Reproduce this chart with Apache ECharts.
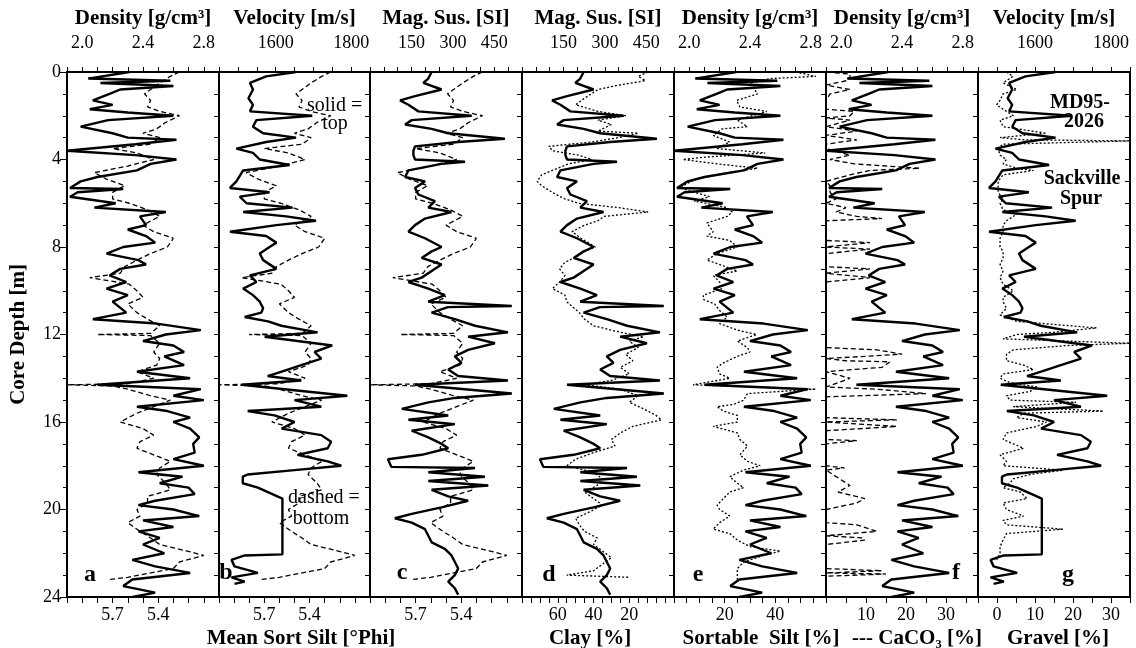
<!DOCTYPE html>
<html>
<head>
<meta charset="utf-8" />
<script src="https://cdn.jsdelivr.net/npm/echarts@6/dist/echarts.min.js"></script>
<style>
  html, body { margin: 0; padding: 0; background: #fff; }
  #main { width: 1136px; height: 648px; }
</style>
</head>
<body>
<div id="main"></div>
<script type="text/javascript">
// core depth [m] / value pairs
var densityDepth = [0,0.3,0.4,0.5,0.64,0.8,1.0,1.3,1.5,1.7,1.85,2.0,2.2,2.5,2.8,3.0,3.1,3.3,3.6,3.8,4.0,4.2,4.5,4.8,5.0,5.3,5.35,5.5,5.7,6.0,6.2,6.4,6.6,7.0,7.2,7.5,7.8,8.0,8.3,8.6,8.8,9.0,9.3,9.6,9.9,10.2,10.5,11.0,11.3,11.5,11.8,12.0,12.3,12.5,12.8,13.0,13.4,13.7,14.0,14.3,14.5,14.8,15.0,15.3,15.5,15.8,16.0,16.3,16.7,17.0,17.4,17.7,18.0,18.3,18.5,18.8,19.0,19.3,19.6,19.8,20.0,20.3,20.5,20.8,21.0,21.3,21.6,22.0,22.3,22.6,22.9,23.2,23.5,23.8,24.0];
var densityValue = [2.31,2.04,2.58,2.12,2.6,2.25,2.18,2.07,2.2,2.05,2.3,2.6,2.17,1.99,2.2,2.3,2.62,2.35,1.9,2.35,2.62,2.45,2.36,2.1,1.99,1.92,2.27,1.97,1.92,2.22,2.08,2.55,2.38,2.42,2.3,2.42,2.48,2.27,2.16,2.37,2.42,2.25,2.18,2.29,2.16,2.3,2.2,2.29,2.07,2.49,2.78,2.55,2.4,2.6,2.67,2.54,2.67,2.36,2.71,2.1,2.78,2.6,2.8,2.36,2.56,2.71,2.6,2.71,2.77,2.73,2.74,2.6,2.8,2.37,2.66,2.51,2.7,2.74,2.48,2.37,2.6,2.77,2.4,2.6,2.37,2.51,2.4,2.54,2.33,2.48,2.71,2.33,2.27,2.48,2.33];

var sortSiltDepth = [0,0.2,0.5,0.8,1.0,1.3,1.6,1.8,2.0,2.3,2.6,2.8,3.0,3.3,3.5,3.7,4.0,4.3,4.6,4.9,5.2,5.5,5.8,6.0,6.3,6.6,7.0,7.3,7.6,8.0,8.3,8.6,8.9,9.2,9.4,9.7,10.0,10.3,10.6,11.0,11.3,11.6,11.95,12.0,12.05,12.4,12.8,13.1,13.4,13.7,14.0,14.25,14.3,14.35,14.5,14.8,15.0,15.3,15.6,16.0,16.3,16.6,16.9,17.2,17.5,17.8,18.1,18.4,18.8,19.1,19.4,19.7,20.0,20.3,20.6,21.0,21.3,21.6,21.9,22.1,22.4,22.7,22.9,23.1,23.2];
var sortSiltValue = [5.26,5.32,5.39,5.45,5.49,5.45,5.47,5.39,5.26,5.35,5.41,5.5,5.39,5.45,5.7,5.54,5.43,5.6,5.82,5.74,5.62,5.7,5.7,5.59,5.47,5.39,5.5,5.43,5.3,5.34,5.45,5.54,5.62,5.65,5.85,5.59,5.54,5.5,5.6,5.54,5.47,5.39,5.45,5.8,5.45,5.39,5.43,5.39,5.41,5.54,5.43,5.6,6.0,5.7,5.6,5.45,5.32,5.43,5.54,5.65,5.5,5.43,5.52,5.54,5.43,5.32,5.39,5.41,5.35,5.32,5.47,5.47,5.54,5.52,5.6,5.52,5.45,5.39,5.21,5.1,5.26,5.3,5.45,5.6,5.72];

var velocityDepth = [0,0.2,0.5,0.8,1.2,1.5,1.8,2.0,2.2,2.5,2.8,3.0,3.2,3.5,3.7,4.0,4.25,4.5,5.0,5.3,5.5,5.7,6.0,6.2,6.4,6.6,6.8,7.0,7.3,7.5,7.8,8.0,8.3,8.6,9.0,9.3,9.6,9.9,10.2,10.5,10.8,11.0,11.2,11.4,11.6,11.9,12.1,12.3,12.5,12.8,13.1,13.4,13.7,13.9,14.1,14.3,14.5,14.8,15.0,15.3,15.5,15.7,16.0,16.3,16.6,16.9,17.2,17.5,17.8,18.0,18.2,18.4,18.5,18.8,19.0,19.5,22.05,22.1,22.3,22.6,22.9,23.1,23.3,23.4];
var velocityValue = [1654,1575,1532,1540,1528,1540,1532,1697,1549,1540,1567,1654,1575,1496,1540,1558,1637,1514,1496,1479,1584,1505,1523,1645,1514,1628,1707,1602,1479,1575,1602,1584,1558,1567,1602,1532,1549,1514,1540,1558,1567,1562,1518,1580,1615,1711,1571,1658,1750,1703,1721,1668,1616,1579,1668,1510,1624,1790,1650,1721,1526,1597,1650,1616,1721,1747,1738,1658,1738,1774,1650,1526,1513,1513,1553,1618,1618,1518,1483,1491,1553,1483,1518,1491];

var magSusDepth = [0,0.3,0.5,0.8,1.1,1.3,1.5,1.8,2.0,2.2,2.4,2.6,2.8,3.05,3.2,3.4,3.6,3.8,4.0,4.1,4.2,4.5,4.8,5.0,5.3,5.6,5.9,6.2,6.4,6.7,7.0,7.3,7.6,8.0,8.2,8.5,8.8,9.1,9.4,9.6,9.9,10.2,10.5,10.7,10.75,11.0,11.3,11.6,11.9,12.1,12.4,12.7,13.0,13.3,13.6,13.9,14.1,14.3,14.5,14.7,14.9,15.1,15.4,15.7,15.9,16.1,16.4,16.7,17.0,17.2,17.5,17.7,18.05,18.1,18.3,18.5,18.7,18.9,19.1,19.4,19.6,19.9,20.2,20.4,20.6,20.9,21.2,21.5,21.8,22.1,22.4,22.7,23.0,23.3,23.6,23.9];
var magSusValue = [223,211,193,259,163,109,139,175,368,151,127,223,283,488,319,163,157,157,163,344,259,139,127,199,163,175,235,211,295,199,163,139,199,259,223,187,259,223,187,139,211,271,211,513,282,223,307,380,499,355,452,355,307,331,283,319,499,163,343,513,307,211,115,283,139,307,151,211,259,283,187,65,77,380,211,416,211,428,223,283,355,259,151,90,151,199,211,223,271,295,307,319,307,283,307,319];

var clayDepth = [0,0.2,0.4,0.6,0.8,1.2,1.5,1.8,2.0,2.2,2.4,2.7,2.8,3.0,3.2,3.4,3.6,3.8,4.0,4.2,4.5,4.7,5.0,5.2,5.4,5.6,5.8,6.0,6.2,6.4,6.6,6.8,7.0,7.3,7.6,8.0,8.2,8.4,8.7,9.0,9.3,9.6,9.9,10.2,10.5,11.0,11.3,11.6,11.9,12.1,12.3,12.6,12.9,13.2,13.5,13.8,14.1,14.3,14.5,14.8,15.1,15.4,15.7,15.9,16.2,16.5,16.8,17.1,17.4,17.7,18.0,18.3,18.6,18.9,19.2,19.5,19.8,20.1,20.4,20.7,21.0,21.3,21.6,21.9,22.2,22.5,22.8,23.0,23.1];
var clayValue = [9.5,15,11,26,37.5,45,50,37.5,22,37.5,30,37.5,15,26,41,65,63,48.5,41,54,63,69,71.5,69,65,61,56,48.5,26,9.5,34,37.5,45,52,47,39,45,48.5,56,59,56,59,63,56,55,48,45,40,25,12,20,15,22,18,25,20,30,45,25,15,20,12,5,2,18,25,30,28,40,50,55,40,35,38,45,40,35,42,50,48,45,38,40,35,30,35,40,55,20];

var sortableDepth = [0,0.2,0.3,0.5,1.0,1.3,1.6,1.8,2.2,2.5,2.6,2.9,3.2,3.5,3.7,3.9,4.0,4.2,4.4,4.6,4.9,5.1,5.3,5.5,5.7,5.9,6.2,6.4,6.6,6.9,7.3,7.5,7.7,8.0,8.3,8.6,8.8,9.1,9.3,9.6,9.9,10.2,10.4,10.6,10.9,11.2,11.5,11.8,12.0,12.3,12.6,12.8,13.0,13.3,13.5,13.8,14.0,14.3,14.5,14.7,15.0,15.2,15.3,15.5,15.7,16.0,16.2,16.5,16.8,17.1,17.3,17.5,17.8,18.0,18.2,18.5,18.8,19.0,19.2,19.5,19.8,20.0,20.3,20.6,20.9,21.1,21.4,21.7,21.9,22.1,22.4,22.7,23.0,23.2];
var sortableValue = [48,56,38,30,33,24.7,26,36.6,25,29,19,15.5,22,17,36,11.6,3.5,17,33,21,9,5,2.4,8,14,8,21,23,21,13,15.5,13,22,25,17,13,18,25,15.5,18,19,11.6,11.6,16,18,21,18,25,32.6,25,29,30,25,19.5,17,18,22,7.5,56,29,27.5,23.5,17,19.5,25,25,15.5,25,26,29,27.5,26,29,34,27.5,22,25,27.5,22,19.5,17,18,22,18,15.5,22,25,30,42,35.3,27.5,25,25,25];

var caco3Depth = [0,0.1,0.3,0.4,0.6,0.8,1.0,1.3,1.7,1.8,2.0,2.1,2.2,2.5,2.7,2.9,3.1,3.3,3.5,3.8,4.0,4.2,4.4,4.5,4.7,5.0,5.2,5.5,5.8,6.0,6.2,6.4,6.6,6.7,6.8,7.7,7.8,8.0,8.1,8.3,8.9,9.0,9.2,9.4,9.6,12.6,12.7,12.9,13.1,13.2,13.25,13.5,13.7,14.0,14.1,14.4,14.5,14.7,14.85,15.8,15.9,16.0,16.2,16.4,16.8,16.85,17.0,18.0,18.1,18.2,18.9,19.2,19.5,19.7,20.0,20.6,20.7,21.0,21.2,21.3,21.4,21.6,22.7,22.8,22.9,22.95,23.05];
var caco3Value = [0.2,6,6,5,0,6,1,0,0,7,6,0,6,0,7.7,0,7.7,0,0,6,1,7,23.5,11,6,0,1,1,2.5,0,5,2.5,7.7,14,0,0,11,0,11,0,0,11,0,11,0,0,12.7,19,0,5,16,14,0,6,4.6,0,12.7,25,0,0,17.7,0,17.7,0,0,7.7,0,0,4.6,0,6,3,9.7,7.7,0,0,7.7,12.7,0,9,9.7,0,0,14,0,15,0];

var gravelDepth = [0,0.2,0.5,0.8,1.0,1.3,1.5,1.7,2.0,2.2,2.5,2.8,3.0,3.1,3.15,3.3,3.5,3.8,4.0,4.2,4.4,4.5,4.7,5.0,5.5,5.8,6.0,6.3,6.5,6.8,7.0,7.3,7.6,8.0,8.2,8.5,8.8,9.1,9.4,9.7,10.0,10.3,10.5,10.8,11.1,11.4,11.7,11.9,12.0,12.2,12.4,12.5,12.7,12.9,13.2,13.4,13.6,13.8,14.0,14.2,14.4,14.6,14.8,15.0,15.1,15.3,15.5,15.6,15.8,16.0,16.2,16.5,16.8,17.0,17.2,17.5,17.8,18.0,18.2,18.4,18.6,18.8,19.0,19.2,19.5,19.7,20.0,20.3,20.5,20.7,20.9,21.1,21.4,21.7,22.0,22.3];
var gravelValue = [2.5,4.2,1.6,5.2,1.6,0.8,-0.1,1.6,4.3,0.8,1.6,13,0.8,7,35,1.6,0.3,0.8,2.5,1.6,5.2,9.6,1.6,0.3,0.3,1.6,0.8,1.6,5.2,2.5,1.6,1.6,0.8,0.8,1.6,1.6,0.8,1.6,0.8,1.6,4.3,1.6,1.6,2.5,0.8,5.2,26.2,14.7,5.2,1.6,35,19,4.3,2.5,2.5,7,9.6,1.6,0.8,3.4,10.5,8.7,2.5,3.4,20.8,4.3,28,7,5.2,13,10.5,2.5,1.6,4.3,7,0.8,2.5,1.6,17.4,8.7,4.3,3.4,1.6,6.1,7.9,1.6,2.5,7,1.6,2.5,17.4,2.5,1.6,0.8,0.8,-0.1];

// tick labels
var depthTicks = ['0', '4', '8', '12', '16', '20', '24'];
var densityTicks = ['2.0', '2.4', '2.8'];
var velocityTicks = ['1600', '1800'];
var magSusTicks = ['150', '300', '450'];
var sortSiltTicks = ['5.7', '5.4'];
var clayTicks = ['60', '40', '20'];
var sortableTicks = ['20', '40'];
var caco3Ticks = ['10', '20', '30'];
var gravelTicks = ['0', '10', '20', '30'];

var FONT = '"Liberation Serif", "Times New Roman", serif';

function pairs(depth, val) {
    return depth.map(function (d, i) { return [val[i], d]; });
}

var scales = {
    density:  { min: 1.9, max: 2.9, interval: 0.1, ticks: densityTicks, name: 'Density [g/cm³]', data: pairs(densityDepth, densityValue) },
    velocity: { min: 1450, max: 1850, interval: 50, ticks: velocityTicks, name: 'Velocity [m/s]', data: pairs(velocityDepth, velocityValue) },
    magsus:   { min: 0, max: 550, interval: 50, ticks: magSusTicks, name: 'Mag. Sus. [SI]', data: pairs(magSusDepth, magSusValue) },
    sortSilt: { min: 5.0, max: 6.0, interval: 0.1, ticks: sortSiltTicks, inverse: true, data: pairs(sortSiltDepth, sortSiltValue) },
    clay:     { min: -5, max: 80, interval: 5, ticks: clayTicks, inverse: true, data: pairs(clayDepth, clayValue) },
    sortable: { min: 0, max: 60, interval: 5, ticks: sortableTicks, data: pairs(sortableDepth, sortableValue) },
    caco3:    { min: 0, max: 38, interval: 5, ticks: caco3Ticks, data: pairs(caco3Depth, caco3Value) },
    gravel:   { min: -5, max: 35, interval: 5, ticks: gravelTicks, data: pairs(gravelDepth, gravelValue) }
};

var panels = [
    { left: 67,  width: 152, top: 'density',  bottom: 'sortSilt', dash: [5, 3] },
    { left: 219, width: 151, top: 'velocity', bottom: 'sortSilt', dash: [5, 3] },
    { left: 370, width: 152, top: 'magsus',   bottom: 'sortSilt', dash: [5, 3] },
    { left: 522, width: 152, top: 'magsus',   bottom: 'clay',     dash: [2, 2] },
    { left: 674, width: 152, top: 'density',  bottom: 'sortable', dash: [2, 2] },
    { left: 826, width: 152, top: 'density',  bottom: 'caco3',    dash: [5, 3] },
    { left: 978, width: 152, top: 'velocity', bottom: 'gravel',   dash: [2, 2] }
];

function pick(list) {
    return function (v) {
        for (var k = 0; k < list.length; k++) {
            if (Math.abs(parseFloat(list[k]) - v) < 1e-6) return list[k];
        }
        return '';
    };
}

var grids = [], xAxes = [], yAxes = [], series = [];
var blackLine = { show: true, onZero: false, lineStyle: { color: '#000', width: 2 } };

panels.forEach(function (p, i) {
    grids.push({ left: p.left, width: p.width, top: 72, height: 525, show: false });

    var t = scales[p.top], b = scales[p.bottom];
    xAxes.push({
        type: 'value', gridIndex: i, position: 'top', min: t.min, max: t.max, interval: t.interval,
        name: t.name, nameLocation: 'middle', nameGap: 43,
        nameTextStyle: { fontFamily: FONT, fontWeight: 'bold', fontSize: 21, color: '#000' },
        axisLine: blackLine,
        axisTick: { length: 5, lineStyle: { color: '#000', width: 1 } },
        axisLabel: { margin: 20, fontFamily: FONT, fontSize: 18, color: '#000', formatter: pick(t.ticks) },
        splitLine: { show: false }
    });
    xAxes.push({
        type: 'value', gridIndex: i, position: 'bottom', min: b.min, max: b.max, interval: b.interval, inverse: !!b.inverse,
        axisLine: blackLine,
        axisTick: { length: 6, lineStyle: { color: '#000', width: 1 } },
        axisLabel: { margin: 9, fontFamily: FONT, fontSize: 18, color: '#000', formatter: pick(b.ticks) },
        splitLine: { show: false }
    });

    yAxes.push({
        type: 'value', gridIndex: i, position: 'left', min: 0, max: 24, inverse: true,
        interval: 4,
        name: i === 0 ? 'Core Depth [m]' : '', nameLocation: 'middle', nameGap: 38,
        nameTextStyle: { fontFamily: FONT, fontWeight: 'bold', fontSize: 21, color: '#000' },
        axisLine: blackLine,
        axisTick: { show: i === 0, length: 7, lineStyle: { color: '#000' } },
        minorTick: { show: i === 0, splitNumber: 4, length: 4, lineStyle: { color: '#000' } },
        axisLabel: { show: i === 0, margin: 6, fontFamily: FONT, fontSize: 18, color: '#000', formatter: pick(depthTicks) },
        splitLine: { show: false }
    });
    yAxes.push({
        type: 'value', gridIndex: i, position: 'right', min: 0, max: 24, inverse: true, interval: 1,
        axisLine: blackLine,
        axisTick: { inside: true, length: 5, lineStyle: { color: '#000' } },
        axisLabel: { show: false },
        splitLine: { show: false }
    });

    series.push({
        type: 'line', xAxisIndex: 2 * i, yAxisIndex: 2 * i, data: t.data,
        showSymbol: false, lineStyle: { color: '#000', width: 2.4 }, z: 3
    });
    series.push({
        type: 'line', xAxisIndex: 2 * i + 1, yAxisIndex: 2 * i, data: b.data,
        showSymbol: false, lineStyle: { color: '#000', width: 1.3, type: p.dash }, z: 2
    });
});

function txt(x, y, s, font, align) {
    return { type: 'text', x: x, y: y, z: 10,
        style: { text: s, font: font, fill: '#000', align: align || 'center', verticalAlign: 'middle' } };
}
var BOLD = 'bold 21px ' + FONT, NOTE = 'bold 20px ' + FONT, REG = '20px ' + FONT, LET = 'bold 24px ' + FONT;

var chart = echarts.init(document.getElementById('main'));
chart.setOption({
    animation: false,
    grid: grids,
    xAxis: xAxes,
    yAxis: yAxes,
    series: series,
    graphic: [
        txt(301, 639, 'Mean Sort Silt [°Phi]', BOLD),
        txt(590, 639, 'Clay [%]', BOLD),
        txt(761, 639, 'Sortable  Silt [%]', BOLD),
        txt(917, 639, '--- CaCO₃ [%]', BOLD),
        txt(1058, 639, 'Gravel [%]', BOLD),
        txt(90, 575, 'a', LET), txt(226, 573, 'b', LET), txt(402, 573, 'c', LET),
        txt(549, 575, 'd', LET), txt(698, 575, 'e', LET), txt(956, 573, 'f', LET), txt(1068, 575, 'g', LET),
        txt(307, 106, 'solid =', REG, 'left'), txt(335, 124, 'top', REG),
        txt(288, 498, 'dashed =', REG, 'left'), txt(321, 519, 'bottom', REG),
        txt(1080, 103, 'MD95-', NOTE), txt(1084, 122, '2026', NOTE),
        txt(1082, 179, 'Sackville', NOTE), txt(1081, 199, 'Spur', NOTE)
    ]
});
</script>
</body>
</html>
